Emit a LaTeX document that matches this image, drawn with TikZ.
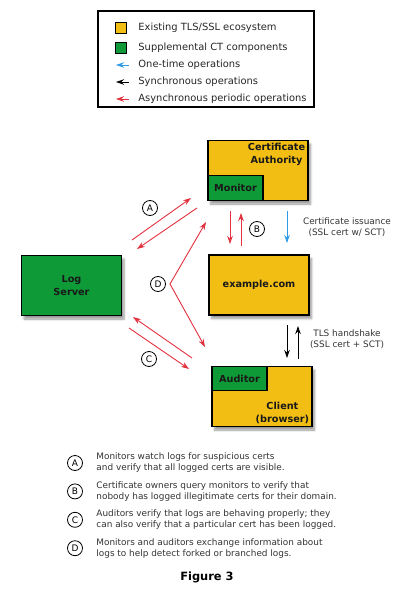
\documentclass[tikz,border=0pt]{standalone}
\usepackage{fontspec}
\setmainfont{DejaVu Sans}
\setsansfont{DejaVu Sans}
\usetikzlibrary{arrows.meta, positioning, shadows.blur}
\definecolor{cyellow}{HTML}{F2BE14}
\definecolor{cgreen}{HTML}{0E9A36}
\definecolor{cred}{HTML}{E2313F}
\definecolor{cblue}{HTML}{2E9BE8}
\definecolor{cgrey}{HTML}{333333}
\tikzset{
  every picture/.style={font=\sffamily, line width=0.9pt},
  box/.style={draw=black, fill=#1, line width=1.1pt, minimum width=100pt, minimum height=60pt, inner sep=0pt},
  box/.default=cyellow,
  shadowed/.style={blur shadow={shadow xshift=2.5pt, shadow yshift=-3.5pt, shadow opacity=40, shadow blur steps=6}},
  subbox/.style={draw=black, fill=cgreen, line width=1.1pt, minimum width=55pt, minimum height=25pt, inner sep=0pt},
  boxtext/.style={font=\sffamily\bfseries\fontsize{9.7}{12.5}\selectfont, text=black!90, align=#1, inner sep=3pt},
  boxtext/.default=center,
  arrow/.style={-{Stealth[length=8pt, width=5.5pt]}, draw=#1, line width=0.9pt},
  arrow/.default=cred,
  twoway/.style={{Stealth[length=8pt, width=5.5pt]}-{Stealth[length=8pt, width=5.5pt]}, draw=cred, line width=0.9pt},
  swatch/.style={draw=black, fill=#1, line width=0.8pt, minimum size=11pt, inner sep=0pt},
  legendtext/.style={font=\sffamily\fontsize{9.9}{11}\selectfont, text=black!85, anchor=west, inner sep=0pt},
  note/.style={font=\sffamily\fontsize{8.9}{11}\selectfont, text=cgrey, align=#1, inner sep=0pt},
  note/.default=left,
  letter/.style={circle, draw=black, line width=0.8pt, minimum size=15pt, inner sep=0pt, font=\sffamily\fontsize{9}{9}\selectfont},
}

\begin{document}
\begin{tikzpicture}[x=1pt, y=-1pt]
  \useasboundingbox (0,0) rectangle (401,605);
  % ---------- legend ----------
  \node[draw=black, line width=1.1pt, minimum width=216pt, minimum height=96pt] (legend) at (206,59) {};
  \node[swatch=cyellow] (sw1) at (120.5,28) {};
  \node[swatch=cgreen] (sw2) at (120.5,48) {};
  \node[legendtext] (lg1) at (138,28) {Existing TLS/SSL ecosystem};
  \node[legendtext] (lg2) at (138,48) {Supplemental CT components};
  \foreach \c/\t [count=\i from 0] in {cblue/One-time operations, black/Synchronous operations, cred/Asynchronous periodic operations} {
    \node[legendtext] (lt\i) at (138, 65+17*\i) {\t};
    \coordinate (ls\i) at (129, 65+17*\i);
    \coordinate (le\i) at (116, 65+17*\i);
    \draw[arrow=\c] (ls\i) -- (le\i);
  }
  % ---------- parties ----------
  \node[box, shadowed] (ca) at (258,170.5) {};
  \node[subbox, boxtext, anchor=south west] (mon) at (ca.south west) {Monitor};
  \node[boxtext, anchor=north east] (catext) at (ca.north east) {Certificate\\Authority};
  \node[box, shadowed, boxtext] (site) at (259,285) {example.com};
  \node[box=cgreen, shadowed, boxtext] (log) at (71.5,285.5) {Log\\Server};
  \node[box, shadowed] (client) at (262,396.5) {};
  \node[subbox, boxtext, anchor=north west, minimum height=24pt] (aud) at (client.north west) {Auditor};
  \node[boxtext, anchor=south east] (cltext) at (client.south east) {Client\\(browser)};
  % ---------- connectors ----------
  \coordinate (a1s) at (132,240); \coordinate (a1e) at (191,198);
  \coordinate (a2s) at (197,208); \coordinate (a2e) at (137,249);
  \draw[arrow] (a1s) -- (a1e);
  \draw[arrow] (a2s) -- (a2e);
  \node[letter] (la) at (150,208) {A};
  \coordinate (b1s) at (230,211); \coordinate (b1e) at (230,244);
  \coordinate (b2s) at (241,246); \coordinate (b2e) at (241,213);
  \draw[arrow] (b1s) -- (b1e);
  \draw[arrow] (b2s) -- (b2e);
  \node[letter] (lb) at (257,229) {B};
  \coordinate (is) at (287,211); \coordinate (ie) at (287,243);
  \draw[arrow=cblue] (is) -- (ie);
  \node[note=center] (issue) at (347,227) {Certificate issuance\\(SSL cert w/ SCT)};
  \coordinate (d1) at (206,222); \coordinate (dv) at (170,284); \coordinate (d2) at (205,347);
  \draw[twoway] (d1) -- (dv) -- (d2);
  \node[letter] (ld) at (158,284) {D};
  \coordinate (c1s) at (192,358); \coordinate (c1e) at (133,317);
  \coordinate (c2s) at (129,328); \coordinate (c2e) at (189,369);
  \draw[arrow] (c1s) -- (c1e);
  \draw[arrow] (c2s) -- (c2e);
  \node[letter] (lc) at (149,359) {C};
  \coordinate (h1s) at (287,325); \coordinate (h1e) at (287,358);
  \coordinate (h2s) at (298,359); \coordinate (h2e) at (298,326);
  \draw[arrow=black] (h1s) -- (h1e);
  \draw[arrow=black] (h2s) -- (h2e);
  \node[note=center] (tls) at (347,339) {TLS handshake\\(SSL cert + SCT)};
  % ---------- key ----------
  \foreach \l/\t [count=\i from 0] in {
      A/{Monitors watch logs for suspicious certs\\and verify that all logged certs are visible.},
      B/{Certificate owners query monitors to verify that\\nobody has logged illegitimate certs for their domain.},
      C/{Auditors verify that logs are behaving properly; they\\can also verify that a particular cert has been logged.},
      D/{Monitors and auditors exchange information about\\logs to help detect forked or branched logs.}} {
    \node[letter] (k\l) at (75, 463+28.4*\i) {\l};
    \node[note, anchor=west] (t\l) at (96, 463+28.4*\i) {\t};
  }
  \node[font=\sffamily\bfseries\fontsize{11.4}{13}\selectfont] (fig) at (207,577) {Figure 3};
\end{tikzpicture}
\end{document}
